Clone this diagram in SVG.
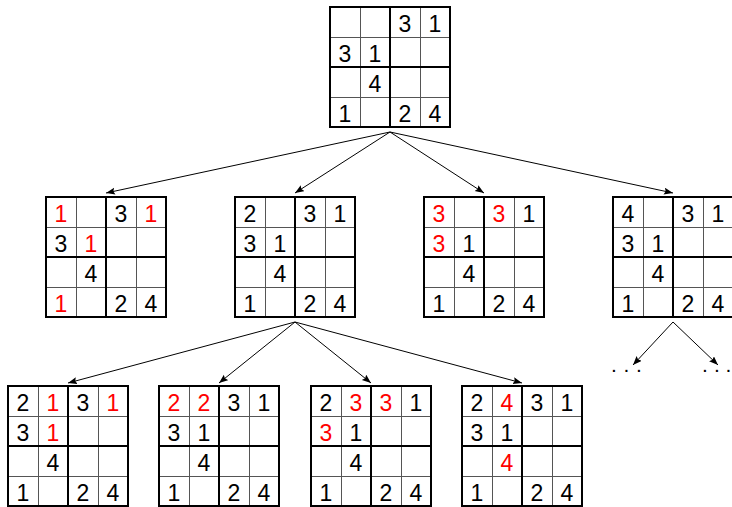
<svg xmlns="http://www.w3.org/2000/svg" xmlns:xlink="http://www.w3.org/1999/xlink" width="732" height="507" viewBox="0 0 732 507">
<style>
.thin{stroke:#555;stroke-width:1;fill:none}
.thick{stroke:#000;stroke-width:2;fill:none}
text{font-family:"Liberation Sans",Arial,sans-serif;font-size:23px;text-anchor:middle;fill:#000}
text.r{fill:#ff0000}
.edge{stroke:#000;stroke-width:1;fill:none;marker-end:url(#ah)}
text.dots{text-anchor:start;font-size:21px}
</style>
<defs>
<marker id="ah" markerUnits="userSpaceOnUse" markerWidth="10" markerHeight="8" refX="9" refY="3.5" orient="auto">
<path d="M0,0 L9,3.5 L0,7 L1.5,3.5 z" fill="#000"/>
</marker>
<g id="grid">
<path class="thin" d="M30.5,0V120M90.5,0V120M0,30.5H120M0,90.5H120"/>
<path class="thick" d="M60,0V120M0,60H120"/>
<rect class="thick" x="0" y="0" width="120" height="120"/>
</g>
</defs>
<g id="connectors">
<path class="edge" d="M390,132L106,193"/>
<path class="edge" d="M390,132L295,193"/>
<path class="edge" d="M390,132L484,193"/>
<path class="edge" d="M390,132L673,193"/>
<path class="edge" d="M295,322L68,383"/>
<path class="edge" d="M295,322L219,383"/>
<path class="edge" d="M295,322L371,383"/>
<path class="edge" d="M295,322L522,383"/>
<path class="edge" d="M673,322L633,365"/>
<path class="edge" d="M673,322L718,365"/>
</g>
<g id="root" transform="translate(330,7)">
<use href="#grid"/>
<text x="75" y="25">3</text><text x="105" y="25">1</text>
<text x="15" y="55">3</text><text x="45" y="55">1</text>
<text x="45" y="85">4</text>
<text x="15" y="115">1</text><text x="75" y="115">2</text><text x="105" y="115">4</text>
</g>
<g id="a1" transform="translate(46,197)">
<use href="#grid"/>
<text class="r" x="15" y="25">1</text><text x="75" y="25">3</text><text class="r" x="105" y="25">1</text>
<text x="15" y="55">3</text><text class="r" x="45" y="55">1</text>
<text x="45" y="85">4</text>
<text class="r" x="15" y="115">1</text><text x="75" y="115">2</text><text x="105" y="115">4</text>
</g>
<g id="a2" transform="translate(235,197)">
<use href="#grid"/>
<text x="15" y="25">2</text><text x="75" y="25">3</text><text x="105" y="25">1</text>
<text x="15" y="55">3</text><text x="45" y="55">1</text>
<text x="45" y="85">4</text>
<text x="15" y="115">1</text><text x="75" y="115">2</text><text x="105" y="115">4</text>
</g>
<g id="a3" transform="translate(424,197)">
<use href="#grid"/>
<text class="r" x="15" y="25">3</text><text class="r" x="75" y="25">3</text><text x="105" y="25">1</text>
<text class="r" x="15" y="55">3</text><text x="45" y="55">1</text>
<text x="45" y="85">4</text>
<text x="15" y="115">1</text><text x="75" y="115">2</text><text x="105" y="115">4</text>
</g>
<g id="a4" transform="translate(613,197)">
<use href="#grid"/>
<text x="15" y="25">4</text><text x="75" y="25">3</text><text x="105" y="25">1</text>
<text x="15" y="55">3</text><text x="45" y="55">1</text>
<text x="45" y="85">4</text>
<text x="15" y="115">1</text><text x="75" y="115">2</text><text x="105" y="115">4</text>
</g>
<g id="b1" transform="translate(8,386)">
<use href="#grid"/>
<text x="15" y="25">2</text><text class="r" x="45" y="25">1</text><text x="75" y="25">3</text><text class="r" x="105" y="25">1</text>
<text x="15" y="55">3</text><text class="r" x="45" y="55">1</text>
<text x="45" y="85">4</text>
<text x="15" y="115">1</text><text x="75" y="115">2</text><text x="105" y="115">4</text>
</g>
<g id="b2" transform="translate(159,386)">
<use href="#grid"/>
<text class="r" x="15" y="25">2</text><text class="r" x="45" y="25">2</text><text x="75" y="25">3</text><text x="105" y="25">1</text>
<text x="15" y="55">3</text><text x="45" y="55">1</text>
<text x="45" y="85">4</text>
<text x="15" y="115">1</text><text x="75" y="115">2</text><text x="105" y="115">4</text>
</g>
<g id="b3" transform="translate(311,386)">
<use href="#grid"/>
<text x="15" y="25">2</text><text class="r" x="45" y="25">3</text><text class="r" x="75" y="25">3</text><text x="105" y="25">1</text>
<text class="r" x="15" y="55">3</text><text x="45" y="55">1</text>
<text x="45" y="85">4</text>
<text x="15" y="115">1</text><text x="75" y="115">2</text><text x="105" y="115">4</text>
</g>
<g id="b4" transform="translate(462,386)">
<use href="#grid"/>
<text x="15" y="25">2</text><text class="r" x="45" y="25">4</text><text x="75" y="25">3</text><text x="105" y="25">1</text>
<text x="15" y="55">3</text><text x="45" y="55">1</text>
<text class="r" x="45" y="85">4</text>
<text x="15" y="115">1</text><text x="75" y="115">2</text><text x="105" y="115">4</text>
</g>
<g id="more-left"><text class="dots" x="611 623.5 636" y="372">...</text></g>
<g id="more-right"><text class="dots" x="702 714 725.5" y="372">...</text></g>
</svg>
